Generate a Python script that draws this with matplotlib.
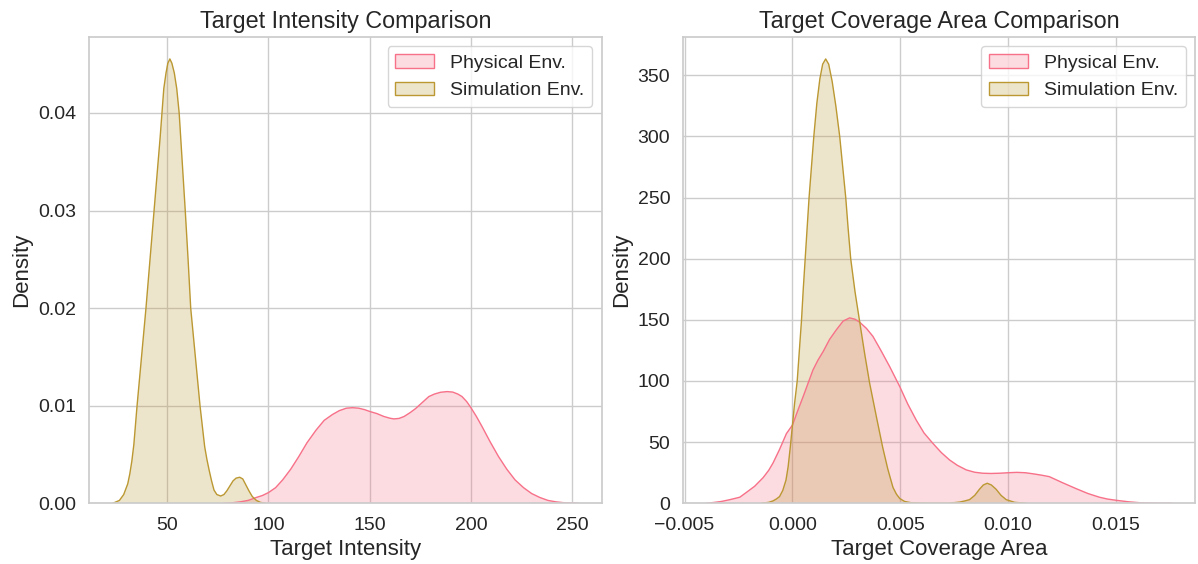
import numpy as np
import matplotlib
matplotlib.use("Agg")
import matplotlib.pyplot as plt
import seaborn as sns
from matplotlib.patches import Patch
from matplotlib.colors import to_rgba

# density curves (x, density) for each environment
intensity_phys_x = [78, 82, 86, 90, 94, 97, 100, 103.5, 107, 111, 115, 119, 123.5, 127.5, 131.6, 135,
                    138.5, 141.5, 144.5, 147.5, 150.2, 153.5, 157, 160, 162, 164.5, 167, 170, 172.6,
                    175.8, 179.2, 182, 185, 188.2, 191, 193.5, 195.6, 198, 200, 202.7, 205.4, 209.5,
                    213.6, 217.7, 221.8, 226, 230, 234, 238, 242, 246, 253]
intensity_phys_y = [0, 0.00005, 0.00015, 0.0003, 0.0006, 0.0008, 0.0011, 0.0016, 0.0024, 0.0035,
                    0.0048, 0.0062, 0.0075, 0.0085, 0.0091, 0.0095, 0.00975, 0.0098, 0.00975, 0.0096,
                    0.0094, 0.0092, 0.0089, 0.00872, 0.00865, 0.0087, 0.0089, 0.0093, 0.0097, 0.0103,
                    0.01094, 0.0112, 0.01138, 0.01145, 0.0114, 0.0112, 0.01094, 0.0104, 0.0098,
                    0.0089, 0.0079, 0.0063, 0.0048, 0.0035, 0.0024, 0.0016, 0.001, 0.0006, 0.0003,
                    0.00015, 0.00006, 0]

intensity_sim_x = [23.1, 26.4, 28.5, 30.5, 31.5, 32.5, 33.5, 34.3, 35.1, 37.3, 39.5, 41.5, 43.5, 45.5,
                   46.5, 47.4, 48.3, 49.4, 50.3, 51.3, 52.3, 53.5, 54.7, 55.9, 57.4, 58.9, 60.3, 61.6,
                   63.9, 66.2, 67.4, 68.5, 69.6, 70.7, 71.9, 73.1, 74.5, 76.4, 78, 79.5, 81, 82.5, 84,
                   85.8, 87.3, 88.8, 90.3, 92, 94, 96, 98.5]
intensity_sim_y = [0, 0.0003, 0.0009, 0.002, 0.003, 0.0043, 0.006, 0.008, 0.01, 0.015, 0.02, 0.025,
                   0.03, 0.035, 0.0375, 0.04, 0.0425, 0.0441, 0.0451, 0.04554, 0.0451, 0.0441, 0.0425,
                   0.04, 0.035, 0.03, 0.025, 0.02, 0.015, 0.01, 0.0078, 0.0058, 0.0045, 0.0034,
                   0.0023, 0.00136, 0.0009, 0.00075, 0.0009, 0.0013, 0.0018, 0.0023, 0.00258, 0.00267,
                   0.0025, 0.0019, 0.0013, 0.0007, 0.0003, 0.0001, 0]

area_phys_x = [-0.00398, -0.0036, -0.0033, -0.0029, -0.0026, -0.00244, -0.00213, -0.00175, -0.00136,
               -0.0011, -0.0009, -0.0006, -0.00028, 0.0, 0.00025, 0.00049, 0.00072, 0.00095, 0.00118,
               0.00142, 0.00172, 0.00204, 0.00235, 0.00265, 0.0029, 0.00312, 0.00343, 0.00373, 0.0041,
               0.0045, 0.00497, 0.00535, 0.00574, 0.0061, 0.00651, 0.0069, 0.00728, 0.00765, 0.00806,
               0.00845, 0.00882, 0.0092, 0.0096, 0.01, 0.0104, 0.0108, 0.0112, 0.01155, 0.01191,
               0.0125, 0.01315, 0.0137, 0.01423, 0.0146, 0.015, 0.0156, 0.01623, 0.0169, 0.0176]
area_phys_y = [0, 0.8, 1.5, 3, 4.3, 5, 9, 14, 21, 27, 33, 44, 57, 64, 76, 87, 98, 109, 117, 124, 134,
               142, 149, 151.6, 150.5, 148, 143, 136.5, 125, 112, 95.6, 81, 68, 57.5, 49, 41.5, 35.5,
               31, 27.3, 25.4, 24.6, 24.4, 24.6, 25, 25.3, 25, 24, 23, 21.8, 17, 12, 8, 5, 3.5, 2.5,
               1.2, 0.3, 0.05, 0]

area_sim_x = [-0.00144, -0.0011, -0.0009, -0.00075, -0.0006, -0.00045, -0.0003, -0.0002, -0.0001, 0.0,
              0.0001, 0.00022, 0.00032, 0.00042, 0.0005, 0.00059, 0.00068, 0.00077, 0.00088, 0.00099,
              0.00113, 0.00127, 0.0014, 0.00154, 0.00168, 0.00184, 0.00201, 0.00219, 0.00233, 0.00247,
              0.00258, 0.0027, 0.0029, 0.00312, 0.00335, 0.00358, 0.00374, 0.0039, 0.00404, 0.00418,
              0.00442, 0.00466, 0.00482, 0.00497, 0.0052, 0.0055, 0.006, 0.0065, 0.0072, 0.00775,
              0.008, 0.00821, 0.00845, 0.00867, 0.00885, 0.00903, 0.00922, 0.00944, 0.00967, 0.00991,
              0.0103, 0.01083]
area_sim_y = [0, 0.8, 2, 3.5, 5.5, 10.5, 19, 30, 46, 64, 82, 100, 125, 150, 175, 200, 225, 250, 275,
              300, 327, 347, 359, 363.3, 359, 345, 325, 300, 275, 250, 225, 200, 173, 148, 122, 98,
              84, 70, 58, 46, 28, 13, 7.5, 4, 1.5, 0.5, 0.1, 0, 0, 1, 2, 3, 6.5, 11.5, 15, 16.4, 15,
              11.5, 6.5, 3, 0.8, 0]

labels = ["Physical Env.", "Simulation Env."]

sns.set_theme(style="whitegrid")
plt.rcParams['font.family'] = ['Liberation Sans', 'DejaVu Sans']
colors = sns.color_palette("husl", 6)[:2]

fig = plt.figure(figsize=(11.98, 5.64), dpi=100)
ax1 = fig.add_axes([0.0747, 0.1076, 0.4274, 0.8273])
ax2 = fig.add_axes([0.5704, 0.1076, 0.4274, 0.8273])


def draw_kde(ax, x, y, color):
    ax.fill_between(x, y, 0, facecolor=to_rgba(color, 0.25), edgecolor="none")
    ax.plot(x, y, color=color, lw=1.0, solid_joinstyle="round")


draw_kde(ax1, intensity_phys_x, intensity_phys_y, colors[0])
draw_kde(ax1, intensity_sim_x, intensity_sim_y, colors[1])
draw_kde(ax2, area_phys_x, area_phys_y, colors[0])
draw_kde(ax2, area_sim_x, area_sim_y, colors[1])

ax1.set_ylim(0, max(intensity_sim_y) * 1.05)
ax2.set_ylim(0, max(area_sim_y) * 1.05)
ax1.set_xticks([50, 100, 150, 200, 250])
ax2.set_yticks(np.arange(0, 351, 50))

handles = [Patch(facecolor=to_rgba(c, 0.25), edgecolor=c, lw=1) for c in colors]
for ax, title, xlabel in [(ax1, "Target Intensity Comparison", "Target Intensity"),
                          (ax2, "Target Coverage Area Comparison", "Target Coverage Area")]:
    ax.set_title(title, fontsize=16.8)
    ax.set_xlabel(xlabel, fontsize=16)
    ax.set_ylabel("Density", fontsize=16)
    ax.tick_params(labelsize=14)
    ax.legend(handles, labels, loc="upper right", fontsize=14)

fig.savefig("out.png", dpi=100)
